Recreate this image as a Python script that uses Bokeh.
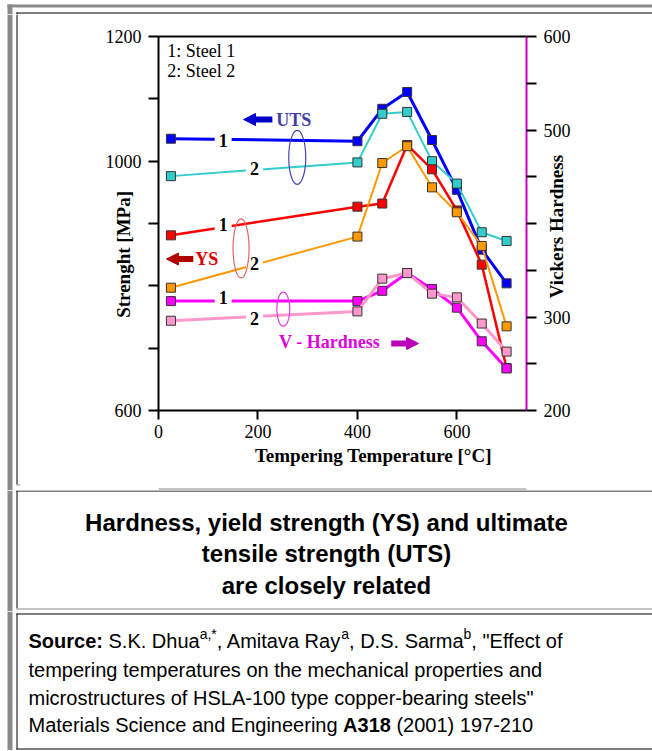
import math
from bokeh.plotting import figure
from bokeh.models import Range1d, LinearAxis, FixedTicker, Label, Arrow, NormalHead
from bokeh.layouts import column, row
from bokeh.embed import file_html
from bokeh.resources import INLINE
from bokeh.core.properties import value

# ---------------- data ----------------
temps = [25, 400, 450, 500, 550, 600, 650, 700]
uts_steel1 = [1036, 1032, 1084, 1111, 1034, 954, 858, 804]
uts_steel2 = [976, 998, 1076, 1079, 1000, 964, 886, 872]
ys_steel1 = [881, 927, 932, 1026, 987, 921, 834, 668]
ys_steel2 = [797, 879, 997, 1024, 958, 918, 864, 735]
hv_steel1 = [317, 317, 328, 347, 330, 310, 274, 245]
hv_steel2 = [296, 306, 341, 347, 325, 321, 293, 263]

strength_ticks = [600, 700, 800, 900, 1000, 1100, 1200]
strength_tick_labels = {600: "600", 1000: "1000", 1200: "1200"}
hv_ticks = [200, 250, 300, 350, 400, 450, 500, 550, 600]
hv_tick_labels = {200: "200", 300: "300", 500: "500", 600: "600"}
temp_ticks = [0, 200, 400, 600]

x_title = "Tempering Temperature [°C]"
y_title = "Strenght [MPa]"
y2_title = "Vickers Hardness"
legend_lines = ["1: Steel 1", "2: Steel 2"]
caption_lines = ["Hardness, yield strength (YS) and ultimate",
                 "tensile strength (UTS)",
                 "are closely related"]

SERIF = "Liberation Serif"
SANS = "Liberation Sans"
GRAY = "#8a8a8a"
MAG_AXIS = "#CC00CC"
NB = "\u00a0"


def blank(w, h):
    f = figure(width=w, height=h, x_range=Range1d(0, w), y_range=Range1d(h, 0),
               min_border=0, toolbar_location=None, output_backend="svg",
               x_axis_location=None, y_axis_location=None, title=None)
    f.outline_line_color = None
    f.background_fill_color = "white"
    f.border_fill_color = "white"
    f.grid.visible = False
    return f


def rect(f, l, r, t, b, color):
    f.quad(left=[l], right=[r], top=[t], bottom=[b], fill_color=color, line_color=None)


# ---------------- page frame pieces (page coords, window 652x751) ----------------
head = blank(652, 14)                  # page y 0..14
rect(head, 7, 652, 4, 7, GRAY)
rect(head, 7, 12, 4, 14, GRAY)
rect(head, 16, 652, 12, 13, "black")
rect(head, 16, 17, 12, 14, "black")

left_strip = blank(20, 476)            # page x 0..20, y 14..490
rect(left_strip, 7, 12, 0, 476, GRAY)
rect(left_strip, 16, 17, 0, 470, "black")
rect(left_strip, 16, 20, 470, 471, GRAY)

bottom_strip = blank(632, 8)           # page x 20..652, y 482..490
rect(bottom_strip, 0, 632, 2, 3, GRAY)

# ---------------- chart ----------------
p = figure(width=632, height=468, x_range=Range1d(0, 740), y_range=Range1d(600, 1200),
           min_border_left=138, min_border_right=126, min_border_top=22, min_border_bottom=72,
           toolbar_location=None, output_backend="svg", title=None,
           x_axis_location=None, y_axis_location=None)
p.outline_line_color = None
p.background_fill_color = "white"
p.border_fill_color = "white"
p.grid.visible = False
p.extra_y_ranges = {"hv": Range1d(200, 600)}


def style_axis(ax, tick_out, standoff, line_color="black"):
    ax.axis_line_color = line_color
    ax.axis_line_width = 2
    ax.major_tick_line_color = "black"
    ax.major_tick_line_width = 2
    ax.major_tick_in = 0
    ax.major_tick_out = tick_out
    ax.minor_tick_line_color = None
    ax.major_label_text_font = SERIF
    ax.major_label_text_font_size = "18px"
    ax.major_label_text_color = "black"
    ax.major_label_standoff = standoff
    ax.axis_label_text_font = SERIF
    ax.axis_label_text_font_style = "bold"
    ax.axis_label_text_font_size = "19px"
    ax.axis_label_text_color = "black"


ax_left = LinearAxis(ticker=FixedTicker(ticks=strength_ticks, minor_ticks=[]))
ax_left.major_label_overrides = {t: strength_tick_labels.get(t, "") for t in strength_ticks}
style_axis(ax_left, 10, 7)
ax_left.axis_label = y_title + NB * 13
ax_left.axis_label_standoff = -31
p.add_layout(ax_left, "left")

ax_bottom = LinearAxis(ticker=FixedTicker(ticks=temp_ticks, minor_ticks=[]))
style_axis(ax_bottom, 9, 5)
ax_bottom.axis_label = NB * 13 + x_title
ax_bottom.axis_label_standoff = 4
p.add_layout(ax_bottom, "below")

ax_right = LinearAxis(y_range_name="hv", ticker=FixedTicker(ticks=hv_ticks, minor_ticks=[]))
ax_right.major_label_overrides = {t: hv_tick_labels.get(t, "") for t in hv_ticks}
style_axis(ax_right, 10, 7, MAG_AXIS)
p.add_layout(ax_right, "right")

# right-hand axis title: carried by a line-less companion axis, anchored at its lower end
y2_title_anchor = 320
ax_right_title = LinearAxis(y_range_name="hv",
                            ticker=FixedTicker(ticks=[y2_title_anchor], minor_ticks=[]))
ax_right_title.major_label_overrides = {y2_title_anchor: y2_title}
ax_right_title.axis_line_color = None
ax_right_title.major_tick_line_color = None
ax_right_title.minor_tick_line_color = None
ax_right_title.major_tick_in = 0
ax_right_title.major_tick_out = 0
ax_right_title.major_label_orientation = math.pi / 2
ax_right_title.major_label_standoff = -17
ax_right_title.major_label_text_font = SERIF
ax_right_title.major_label_text_font_style = "bold"
ax_right_title.major_label_text_font_size = "19px"
ax_right_title.major_label_text_color = "black"
p.add_layout(ax_right_title, "right")

ax_top = LinearAxis(ticker=FixedTicker(ticks=[], minor_ticks=[]))
style_axis(ax_top, 0, 0)
ax_top.major_label_text_font_size = "0px"
p.add_layout(ax_top, "above")

series = [
    (uts_steel1, "#0000FF", 3, None),
    (uts_steel2, "#33CCCC", 2, None),
    (ys_steel1, "#FF0000", 2.5, None),
    (ys_steel2, "#FF9900", 2, None),
    (hv_steel1, "#FF00FF", 3, "hv"),
    (hv_steel2, "#FF99CC", 3, "hv"),
]
for vals, color, lw, rng in series:
    kw = {} if rng is None else {"y_range_name": rng}
    p.line(temps, vals, line_color=color, line_width=lw, **kw)
    p.scatter(temps, vals, marker="square", size=9, fill_color=color,
              line_color="#333333", line_width=1, **kw)

# steel number labels on the curves (x, y in MPa axis)
num_labels = [("1", 130, 1033), ("2", 193, 988),
              ("1", 130, 898), ("2", 193, 836),
              ("1", 130, 782), ("2", 193, 748)]
for txt, lx, ly in num_labels:
    p.add_layout(Label(x=lx, y=ly, text=txt, text_font=SERIF, text_font_style="bold",
                       text_font_size="18px", text_color="black", text_align="center",
                       text_baseline="middle", background_fill_color="white", padding=4))

# grouping ellipses
ell_x = [279, 166, 251]
ell_y = [1006, 860, 762.5]
ell_w = [17, 16, 13]
ell_h = [54, 59, 34]
ell_c = ["#4545B5", "#E06666", "#E040E0"]
p.ellipse(x=ell_x, y=ell_y, width=ell_w, height=ell_h, width_units="screen",
          height_units="screen", fill_color=None, line_color=ell_c, line_width=1.2,
          level="overlay")

# series group labels with arrows
group_labels = [("UTS", 272, 1066, "#3F3FA8"),
                ("YS", 97, 843, "#DD0000"),
                ("V - Hardness", 344, 710, "#DD00DD")]
for txt, lx, ly, c in group_labels:
    p.add_layout(Label(x=lx, y=ly, text=txt, text_font=SERIF, text_font_style="bold",
                       text_font_size="18px", text_color=c, text_align="center",
                       text_baseline="middle"))

arrows = [(229, 171, 1066.8, "#0000CC"),
          (70, 16, 843, "#B00000"),
          (468, 523, 707.5, "#BB00BB")]
for xs, xe, ya, c in arrows:
    p.add_layout(Arrow(end=NormalHead(size=12, fill_color=c, line_color=c, line_width=1),
                       x_start=xs, y_start=ya, x_end=xe, y_end=ya,
                       line_color=c, line_width=6))

# legend
for txt, ly in zip(legend_lines, [1176, 1144]):
    p.add_layout(Label(x=17.5, y=ly, text=txt, text_font=SERIF, text_font_size="18px",
                       text_color="black", text_align="left", text_baseline="middle"))

# ---------------- caption box ----------------
cap = blank(652, 121)                  # page y 490..611
rect(cap, 7, 12, 0, 121, GRAY)
rect(cap, 16, 652, 0, 1, "black")
rect(cap, 16, 17, 0, 118, "black")
rect(cap, 16, 652, 118, 119, GRAY)
cap.text(x=[326, 326, 326], y=[31.5, 63, 94.5], text=caption_lines,
         text_font=value(SANS), text_font_style=value("bold"), text_font_size=value("24px"),
         text_align="center", text_baseline="alphabetic", text_color="black")

# ---------------- source box ----------------
REG = {' ': 278, '"': 355, '(': 333, ')': 333, '*': 389, ',': 278, '-': 333, '.': 278, ':': 278,
       'A': 667, 'D': 722, 'E': 667, 'H': 722, 'K': 667, 'L': 556, 'M': 833, 'R': 722, 'S': 667,
       'a': 556, 'b': 556, 'c': 500, 'd': 556, 'e': 556, 'f': 278, 'g': 556, 'h': 556, 'i': 222,
       'l': 222, 'm': 833, 'n': 556, 'o': 556, 'p': 556, 'r': 333, 's': 500, 't': 278, 'u': 556,
       'v': 500, 'y': 500}
BOLD = {' ': 278, ':': 333, 'S': 667, 'o': 611, 'u': 611, 'r': 389, 'c': 556, 'e': 556,
        'A': 722}


def tw(s, bold):
    tab = BOLD if bold else REG
    return sum(tab.get(ch, 556) for ch in s) / 1000.0


src = blank(652, 139)                  # page y 611..750
rect(src, 7, 12, 0, 139, GRAY)
rect(src, 16, 652, 2, 3, "black")
rect(src, 16, 17, 2, 138, "black")
rect(src, 16, 652, 137, 138, "black")

source_runs = [
    [("Source:", True, False), (" S.K. Dhua", False, False), ("a,*", False, True),
     (", Amitava Ray", False, False), ("a", False, True), (", D.S. Sarma", False, False),
     ("b", False, True), (", \"Effect of", False, False)],
    [("tempering temperatures on the mechanical properties and", False, False)],
    [("microstructures of HSLA-100 type copper-bearing steels\"", False, False)],
    [("Materials Science and Engineering", False, False), (" A318", True, False),
     (" (2001) 197-210", False, False)],
]
baselines = [29.7, 58.7, 86.3, 113.7]
FS = 20
SUP = 14
for runs, by in zip(source_runs, baselines):
    x = 28.0
    for txt, bold, sup in runs:
        sz = SUP if sup else FS
        lead = len(txt) - len(txt.lstrip(" "))
        xs = x + lead * 0.278 * sz
        src.text(x=[xs], y=[by - (7 if sup else 0)], text=[txt.strip()],
                 text_font=value(SANS), text_font_style=value("bold" if bold else "normal"),
                 text_font_size=value(f"{sz}px"), text_align="left",
                 text_baseline="alphabetic", text_color="black")
        x += tw(txt, bold) * sz

layout = column(head, row(left_strip, column(p, bottom_strip)), cap, src)
open("out.html", "w").write(file_html(layout, INLINE))
